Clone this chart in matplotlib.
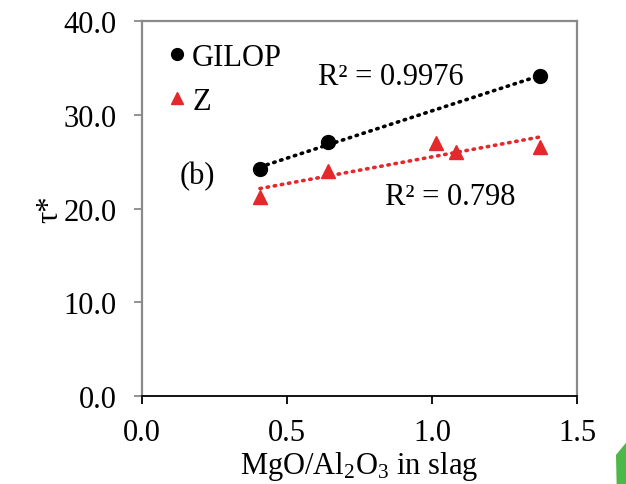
import matplotlib
matplotlib.use("Agg")
import matplotlib.pyplot as plt
import numpy as np
from matplotlib.patches import Polygon

plt.rcParams['font.family'] = ['Liberation Serif', 'DejaVu Serif']
plt.rcParams['mathtext.fontset'] = 'custom'
plt.rcParams['mathtext.rm'] = 'Liberation Serif'
plt.rcParams['mathtext.it'] = 'Liberation Serif:italic'

# dữ liệu
x_gilop = [0.407, 0.641, 1.372]
y_gilop = [24.2, 27.1, 34.1]
x_z = [0.407, 0.641, 1.014, 1.083, 1.372]
y_z = [21.2, 24.0, 27.0, 26.0, 26.6]
r2_labels = ['R² = 0.9976', 'R² = 0.798']

red = '#e4282b'
fs = 22

fig = plt.figure(figsize=(6.26, 4.85), dpi=100)
ax = fig.add_axes([0.2268, 0.1814, 0.9217 - 0.2268, 0.9546 - 0.1814])

# đường xu hướng tuyến tính
for xs, ys, c in [(x_gilop, y_gilop, 'black'), (x_z, y_z, red)]:
    k, b = np.polyfit(xs, ys, 1)
    xx = np.array([min(xs), max(xs)])
    ax.plot(xx, k * xx + b, color=c, lw=2.6, linestyle=(0, (0.4, 1.6)),
            dash_capstyle='round', zorder=2)

ax.plot(x_gilop, y_gilop, 'o', color='black', ms=10, label='GILOP', zorder=3)
ax.plot(x_z, y_z, '^', color=red, ms=10, label='Z', zorder=3)

ax.text(0.607, 34.1, r2_labels[0], fontsize=fs, va='center', ha='left')
ax.text(0.838, 21.3, r2_labels[1], fontsize=fs, va='center', ha='left')
ax.text(0.131, 23.5, '(b)', fontsize=fs, va='center', ha='left')

ax.set_xlim(0, 1.5)
ax.set_ylim(0, 40)
ax.set_xticks([0, 0.5, 1.0, 1.5])
ax.set_yticks([0, 10, 20, 30, 40])
ax.set_xticklabels(['0.0', '0.5', '1.0', '1.5'])
ax.set_yticklabels(['0.0', '10.0', '20.0', '30.0', '40.0'])
ax.tick_params(axis='x', direction='out', length=6, width=1.3, color='black',
               labelsize=fs, pad=10)
ax.tick_params(axis='y', direction='out', length=6, width=1.3, color='#8a8a8a',
               labelsize=fs, pad=12)

ax.spines['bottom'].set_color('black')
ax.spines['bottom'].set_linewidth(1.3)
for s in ['left', 'top', 'right']:
    ax.spines[s].set_color('#8a8a8a')
    ax.spines[s].set_linewidth(1.6)

ax.set_xlabel('MgO/Al$_2$O$_3$ in slag', fontsize=fs, labelpad=1)
ax.set_ylabel('τ*', fontsize=fs, labelpad=0)

leg = ax.legend(loc='upper left', bbox_to_anchor=(0.01, 0.975), frameon=False,
                fontsize=fs, handletextpad=-0.1, handlelength=1.2,
                labelspacing=0.5, borderaxespad=0, markerscale=0.85)

# mảnh trang trí màu xanh ở góc
fig.patches.append(Polygon([[0.985, 0.0], [1.0, 0.0], [1.0, 0.085], [0.984, 0.06]],
                           closed=True, transform=fig.transFigure,
                           facecolor='#4cb848', edgecolor='none'))

fig.savefig('out.png', dpi=100)
